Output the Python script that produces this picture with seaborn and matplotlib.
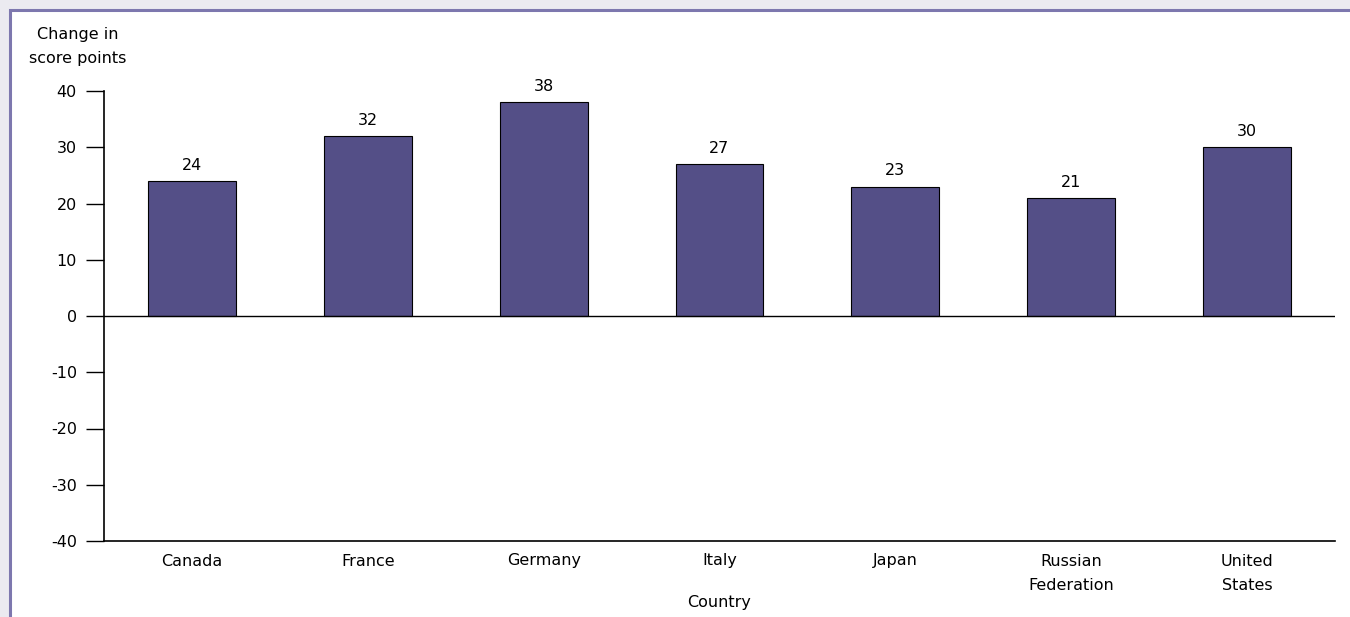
import matplotlib
matplotlib.use("Agg")
import matplotlib.pyplot as plt
import seaborn as sns
import pandas as pd
from matplotlib.patches import Rectangle

countries = ["Canada", "France", "Germany", "Italy", "Japan", "Russian\nFederation", "United\nStates"]
changes = [24, 32, 38, 27, 23, 21, 30]
y_ticks = [-40, -30, -20, -10, 0, 10, 20, 30, 40]

df = pd.DataFrame({"Country": countries, "Change": changes})

sns.set_style("white")
plt.rcParams['font.family'] = ['DejaVu Sans']
plt.rcParams['text.color'] = 'black'
plt.rcParams['axes.labelcolor'] = 'black'

fig = plt.figure(figsize=(13.5, 6.17), dpi=100)
fig.patch.set_facecolor("#EBEAF0")
# white panel with purple frame
panel = Rectangle((10/1350, -0.05), 1.1, 1 - 10/617 + 0.05, transform=fig.transFigure,
                  facecolor="white", edgecolor="#7D77AE", linewidth=2.2, zorder=-10)
fig.patches.append(panel)

ax = fig.add_axes([104/1350, 1 - 541/617, (1335 - 104)/1350, (541 - 91)/617])
ax.set_facecolor("none")
ax.set_zorder(5)

sns.barplot(data=df, x="Country", y="Change", ax=ax, color="#544F87", saturation=1,
            width=0.5, edgecolor="black", linewidth=0.8, zorder=3)

ax.set_ylim(-40, 40)
ax.set_xlim(-0.5, len(countries) - 0.5)
ax.set_yticks(y_ticks)
ax.set_yticklabels([str(v) for v in y_ticks])
ax.axhline(0, color="black", linewidth=1.0, zorder=4)

for s in ["top", "right"]:
    ax.spines[s].set_visible(False)
for s in ["left", "bottom"]:
    ax.spines[s].set_color("black")
    ax.spines[s].set_linewidth(1.2)

ax.tick_params(axis="y", direction="out", length=13, width=1.0, pad=6.5, labelsize=11.5, colors="black", left=True)
ax.tick_params(axis="x", length=0, pad=9, labelsize=11.5, colors="black")
for lbl in ax.get_xticklabels():
    lbl.set_linespacing(1.75)

for i, v in enumerate(changes):
    ax.annotate(str(v), (i, v), xytext=(0, 6), textcoords="offset points",
                ha="center", va="bottom", fontsize=11.5, color="black")

ax.set_ylabel("")
ax.set_xlabel("")
fig.text((104 + 1335) / 2 / 1350, 1 - 603/617, "Country", ha="center", va="center",
         fontsize=11.5, color="black")

fig.text(78/1350, 1 - 46/617, "Change in\nscore points", ha="center", va="center",
         fontsize=11.5, linespacing=1.75, color="black")

fig.savefig("out.png", dpi=100, facecolor=fig.get_facecolor())
